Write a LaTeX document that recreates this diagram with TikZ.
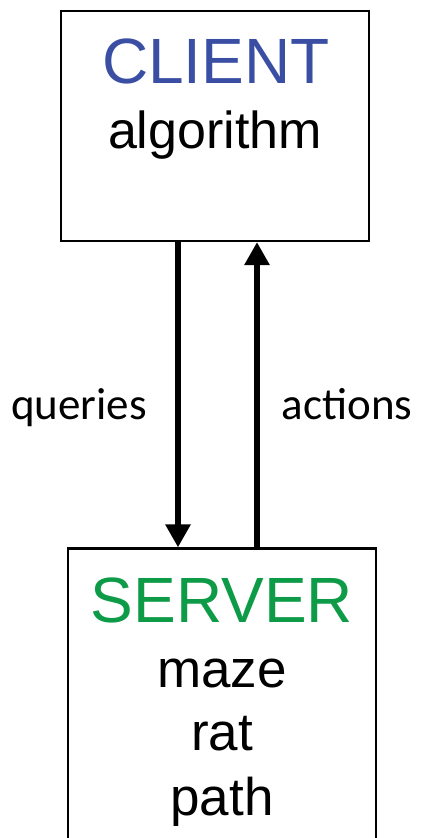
\documentclass[tikz,border=0pt]{standalone}
\usepackage{fontspec}
\setmainfont{Liberation Sans}
\newfontfamily\labelfont{Carlito}
\usetikzlibrary{arrows.meta}
\definecolor{clientblue}{HTML}{3A4FA3}
\definecolor{servergreen}{HTML}{0E9B48}
\begin{document}
\begin{tikzpicture}[x=1pt,y=-1pt,
  box/.style={draw, line width=2.2pt, inner sep=0pt, minimum width=308pt},
  title/.style={anchor=base, inner sep=0pt, font=\fontsize{64}{77}\selectfont},
  item/.style={anchor=base, inner sep=0pt, font=\fontsize{53}{64}\selectfont},
  flowlabel/.style={anchor=base, inner sep=0pt, font=\labelfont\fontsize{45}{54}\selectfont},
  conn/.style={line width=6.8pt, -{Triangle[width=24pt,length=23pt]}}]
\useasboundingbox (0,0) rectangle (421,838);
\clip (0,0) rectangle (421,838);

% boxes
\node[box, minimum height=230pt] (client) at (215,126) {};
\node[box, minimum height=352pt] (server) at (222,724.5) {};

% client text
\node[title, text=clientblue] (clienttitle) at (216,83) {CLIENT};
\node[item, font=\fontsize{52}{62}\selectfont] (algo) at (215,148) {algorithm};

% server text
\node[title, text=servergreen] (servertitle) at (222,622) {SERVER};
\node[item] (maze) at (222,687) {maze};
\node[item] (rat) at (222,750) {rat};
\node[item] (path) at (222,815) {path};

% connectors
\coordinate (qx) at (178,0);
\coordinate (ax) at (257,0);
\draw[conn] (client.south -| qx) -- (server.north -| qx);
\draw[conn] (server.north -| ax) -- (client.south -| ax);

% connector labels
\node[flowlabel] (queries) at (79,419) {queries};
\node[flowlabel] (actions) at (347,419) {actions};
\end{tikzpicture}
\end{document}
